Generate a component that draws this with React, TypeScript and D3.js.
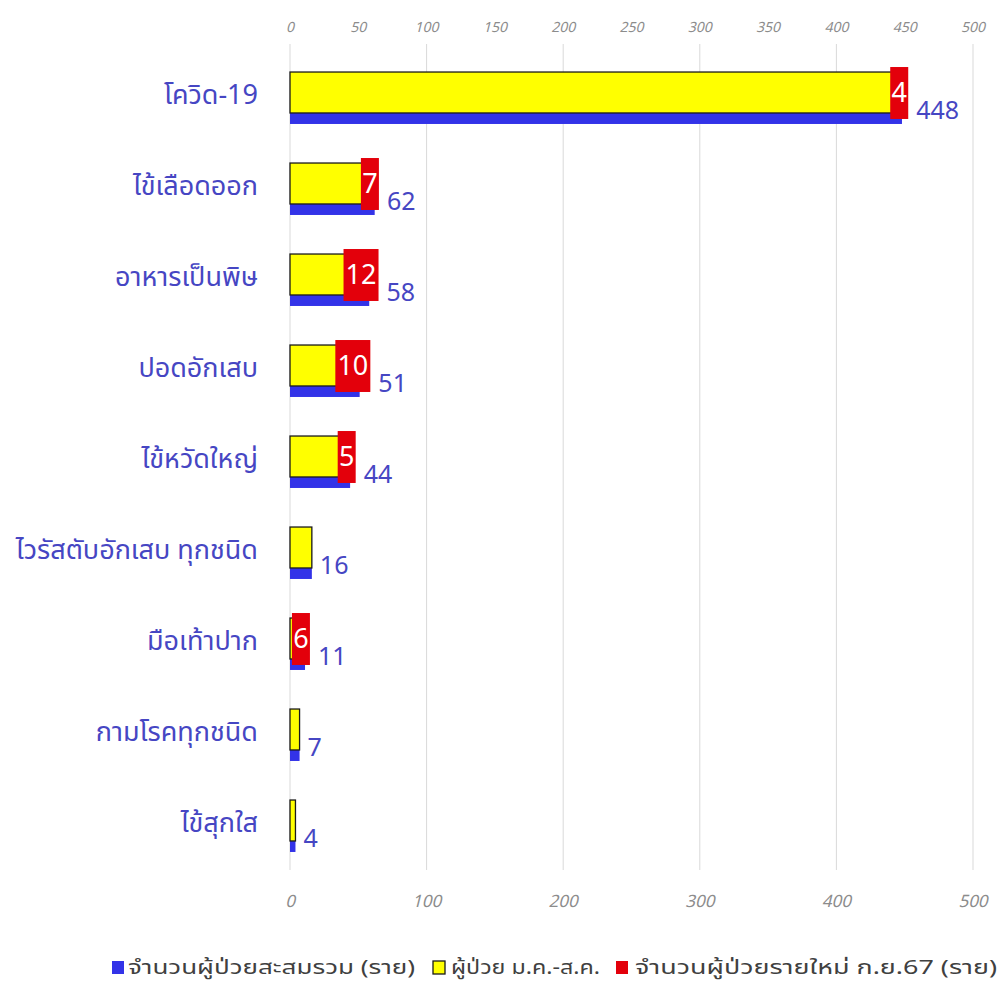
import React from "react";
import * as d3 from "d3";

const categories = [
  "โควิด-19",
  "ไข้เลือดออก",
  "อาหารเป็นพิษ",
  "ปอดอักเสบ",
  "ไข้หวัดใหญ่",
  "ไวรัสตับอักเสบ ทุกชนิด",
  "มือเท้าปาก",
  "กามโรคทุกชนิด",
  "ไข้สุกใส",
];
const totalCases = [448, 62, 58, 51, 44, 16, 11, 7, 4];
const janAugCases = [444, 55, 46, 41, 39, 16, 5, 7, 4];
const sepNewCases = [4, 7, 12, 10, 5, 0, 6, 0, 0];
const topTicks = [0, 50, 100, 150, 200, 250, 300, 350, 400, 450, 500];
const bottomTicks = [0, 100, 200, 300, 400, 500];
const legendLabels = [
  "จำนวนผู้ป่วยสะสมรวม (ราย)",
  "ผู้ป่วย ม.ค.-ส.ค.",
  "จำนวนผู้ป่วยรายใหม่ ก.ย.67 (ราย)",
];

const BLUE = "#3333e8";
const YELLOW = "#ffff00";
const RED = "#e3000b";
const LABEL = "#4646c3";
const FONT = "Tahoma, 'Noto Sans Thai', 'Noto Sans', 'DejaVu Sans', sans-serif";

export default function App() {
  const W = 1003;
  const H = 985;
  const x = d3.scaleLinear().domain([0, 500]).range([290, 973]);
  const y = d3
    .scaleBand<string>()
    .domain(categories)
    .range([47, 866])
    .paddingInner(0.55)
    .paddingOuter(0.275);
  const bw = y.bandwidth();

  const legendItems = [
    { sq: 112, tx: 128, len: 287, fill: BLUE, stroke: "none" },
    { sq: 433, tx: 451, len: 149, fill: YELLOW, stroke: "#1a1a1a" },
    { sq: 616, tx: 635, len: 362, fill: RED, stroke: "none" },
  ];

  return (
    <svg
      width={W}
      height={H}
      style={{ position: "absolute", left: 0, top: 0, background: "#fff" }}
      fontFamily={FONT}
    >
      {/* gridlines */}
      {bottomTicks.map((t) => (
        <line key={"g" + t} x1={x(t)} x2={x(t)} y1={44} y2={870} stroke="#d9d9d9" strokeWidth={1} />
      ))}
      {/* top axis */}
      {topTicks.map((t) => (
        <text
          key={"tt" + t}
          x={x(t)}
          y={27}
          textAnchor="middle"
          dominantBaseline="central"
          fontSize={14}
          fontStyle="italic"
          fill="#8c8c8c"
        >
          {t}
        </text>
      ))}
      {/* bottom axis */}
      {bottomTicks.map((t) => (
        <text
          key={"bt" + t}
          x={x(t)}
          y={902}
          textAnchor="middle"
          dominantBaseline="central"
          fontSize={17}
          fontStyle="italic"
          fill="#8c8c8c"
        >
          {t}
        </text>
      ))}
      {/* bars */}
      {categories.map((c, i) => {
        const y0 = y(c)!;
        const tot = totalCases[i];
        const ja = janAugCases[i];
        const nw = sepNewCases[i];
        const boxW = String(nw).length * 17 + 1;
        const cx = (x(ja) + x(ja + nw)) / 2;
        return (
          <g key={c}>
            <rect x={x(0)} y={y0 + 11} width={x(tot) - x(0)} height={bw} fill={BLUE} />
            <rect
              x={x(0)}
              y={y0}
              width={x(ja) - x(0)}
              height={bw}
              fill={YELLOW}
              stroke="#1a1a1a"
              strokeWidth={1.3}
            />
            {nw > 0 && (
              <g>
                <rect x={x(ja)} y={y0} width={x(ja + nw) - x(ja)} height={bw} fill={RED} />
                <rect x={cx - boxW / 2} y={y0 - 5} width={boxW} height={bw + 11} fill={RED} />
                <text
                  x={cx}
                  y={y0 + bw / 2 + 1}
                  textAnchor="middle"
                  dominantBaseline="central"
                  fontSize={27}
                  fill="#fff"
                >
                  {nw}
                </text>
              </g>
            )}
            <text
              x={Math.max(x(tot), nw > 0 ? cx + boxW / 2 : 0) + 8}
              y={y0 + bw - 2}
              dominantBaseline="central"
              fontSize={25}
              fill={LABEL}
            >
              {tot}
            </text>
            <text
              x={258}
              y={y0 + bw / 2 + 3}
              textAnchor="end"
              dominantBaseline="central"
              fontSize={27}
              fill={LABEL}
            >
              {c}
            </text>
          </g>
        );
      })}
      {/* legend */}
      <g fontSize={20} fill="#404040">
        {legendItems.map((it, i) => (
          <g key={"lg" + i}>
            <rect
              x={it.sq}
              y={961}
              width={12}
              height={13}
              fill={it.fill}
              stroke={it.stroke}
              strokeWidth={1.3}
            />
            <text
              x={it.tx}
              y={968}
              dominantBaseline="central"
              textLength={it.len}
              lengthAdjust="spacingAndGlyphs"
            >
              {legendLabels[i]}
            </text>
          </g>
        ))}
      </g>
    </svg>
  );
}
